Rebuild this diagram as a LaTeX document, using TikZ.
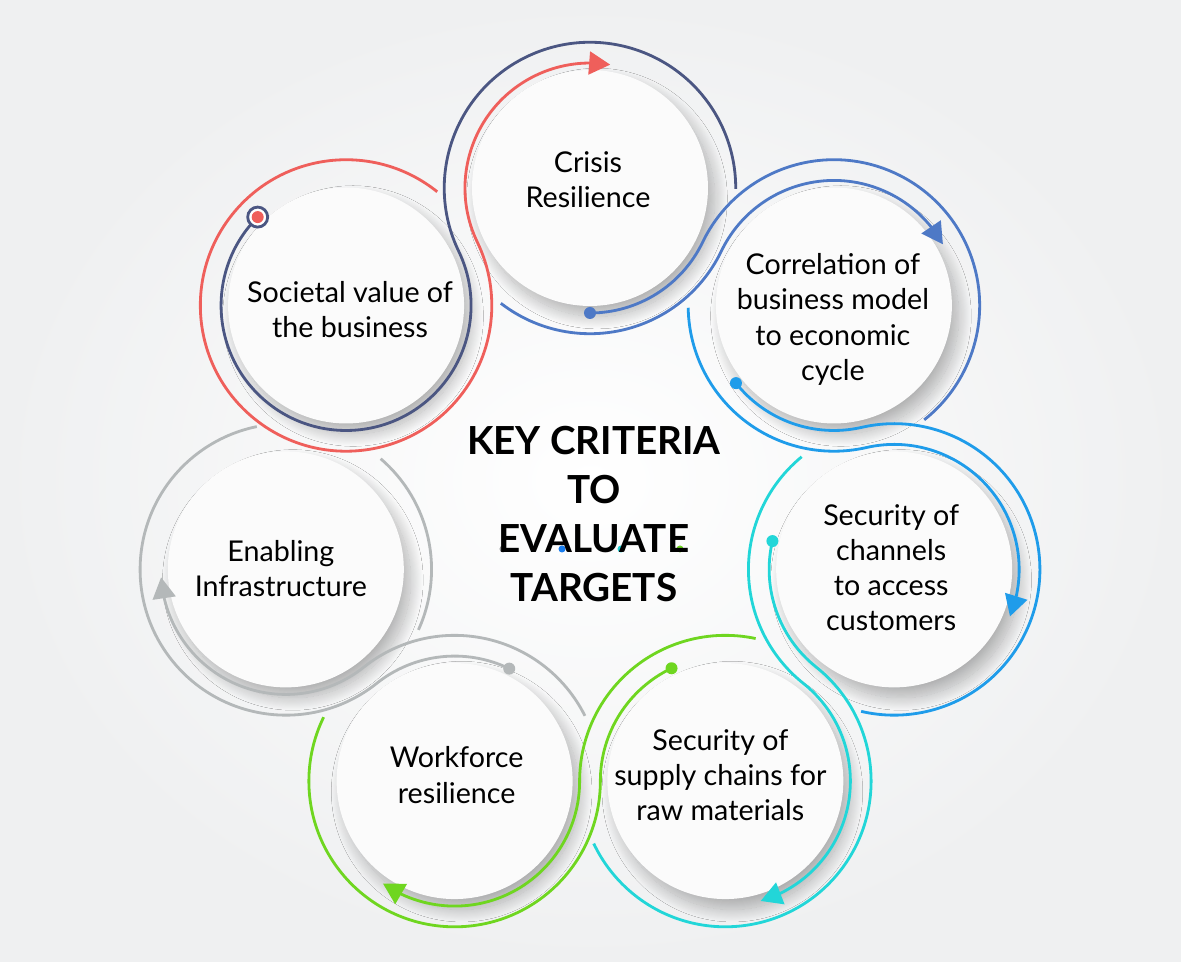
\documentclass[tikz,border=0pt]{standalone}
\usepackage{fontspec}
\setmainfont{Lato}
\usetikzlibrary{calc,arrows.meta,bending,shadows.blur}
\definecolor{bgray}{HTML}{EFF0F1}
\definecolor{discw}{HTML}{FBFBFB}
\definecolor{cred}{HTML}{EF5F5B}
\definecolor{cnavy}{HTML}{4B5682}
\definecolor{cblue}{HTML}{4E79C6}
\definecolor{clight}{HTML}{1F9CEA}
\definecolor{ccyan}{HTML}{22D6D8}
\definecolor{cgreen}{HTML}{6FD620}
\definecolor{cgray}{HTML}{B4B8B9}
\tikzset{
  disc/.style={circle,fill=discw,minimum size=4.72cm,inner sep=0pt,
    blur shadow={shadow xshift=4pt,shadow yshift=-6pt,shadow blur radius=7pt,
      shadow blur steps=24,shadow opacity=28}},
  strand/.style={line width=1.6pt},
  tip/.style={-{Triangle[length=12pt,width=13pt]}},
  lbl/.style={align=center,font=\fontsize{16.3}{20}\selectfont},
  title/.style={align=center,font=\bfseries\fontsize{22}{27.8}\selectfont}
}
\def\ri{125}
\def\ro{145.74}
\begin{document}
\begin{tikzpicture}[x=0.02cm,y=0.02cm]
    \useasboundingbox (-590,-462) rectangle (591,500);
    \shade[inner color=white,outer color=bgray] (-590,-462) rectangle (591,500);
    \node[disc] (crisis) at (90:312) {};
    \node[disc] (corr)   at (38.571:312) {};
    \node[disc] (chan)   at (-12.857:312) {};
    \node[disc] (supply) at (-64.286:312) {};
    \node[disc] (work)   at (-115.714:312) {};
    \node[disc] (enab)   at (-167.143:312) {};
    \node[disc] (soc)    at (141.429:312) {};
    \node[lbl] (lcrisis) at ($(crisis)+(-2,8)$) {Crisis\\Resilience};
    \node[lbl] (lcorr)   at ($(corr)+(-1,-14)$) {Correlation of\\business model\\to economic\\cycle};
    \node[lbl] (lchan)   at ($(chan)+(-3,2)$) {Security of\\channels\\to access\\customers};
    \node[lbl] (lsupply) at ($(supply)+(-5,6)$) {Security of\\supply chains for\\raw materials};
    \node[lbl] (lwork)   at ($(work)+(2,6)$) {Workforce\\resilience};
    \node[lbl] (lenab)   at ($(enab)+(-5,1)$) {Enabling\\Infrastructure};
    \node[lbl] (lsoc)    at ($(soc)+(4,-4)$) {Societal value of\\the business};
    \draw[strand,cnavy] ($(soc)+(135:\ri)$) arc[start angle=135,end angle=385.714,radius=\ri]
        arc[start angle=205.714,end angle=-0.3,radius=\ro];
    \draw[strand,cred,tip] ($(soc)+(51.3:\ro)$) arc[start angle=51.3,end angle=385.714,radius=\ro]
        arc[start angle=205.714,end angle=80.7,radius=\ri];
    \draw[strand,cblue] ($(crisis)+(-90:\ri)$) arc[start angle=-90,end angle=-25.714,radius=\ri]
        arc[start angle=154.286,end angle=-51.7,radius=\ro];
    \draw[strand,cblue,tip] ($(crisis)+(-127.7:\ro)$) arc[start angle=-127.7,end angle=-25.714,radius=\ro]
        arc[start angle=154.286,end angle=29.3,radius=\ri];
    \draw[strand,clight] ($(corr)+(-141.6:\ri)$) arc[start angle=-141.6,end angle=-77.143,radius=\ri]
        arc[start angle=102.857,end angle=-103.1,radius=\ro];
    \draw[strand,clight,tip] ($(corr)+(-179.1:\ro)$) arc[start angle=-179.1,end angle=-77.143,radius=\ro]
        arc[start angle=102.857,end angle=-22.1,radius=\ri];
    \draw[strand,ccyan] ($(chan)+(166.9:\ri)$) arc[start angle=166.9,end angle=231.429,radius=\ri]
        arc[start angle=51.429,end angle=-154.6,radius=\ro];
    \draw[strand,ccyan,tip] ($(chan)+(129.4:\ro)$) arc[start angle=129.4,end angle=231.429,radius=\ro]
        arc[start angle=51.429,end angle=-73.6,radius=\ri];
    \draw[strand,cgreen] ($(supply)+(115.5:\ri)$) arc[start angle=115.5,end angle=180,radius=\ri]
        arc[start angle=0,end angle=-206,radius=\ro];
    \draw[strand,cgreen,tip] ($(supply)+(78:\ro)$) arc[start angle=78,end angle=180,radius=\ro]
        arc[start angle=0,end angle=-125,radius=\ri];
    \draw[strand,cgray] ($(work)+(64.1:\ri)$) arc[start angle=64.1,end angle=128.571,radius=\ri]
        arc[start angle=-51.429,end angle=-258.5,radius=\ro];
    \draw[strand,cgray] ($(enab)+(49.4:\ro)$) arc[start angle=49.4,end angle=-24.5,radius=\ro];
    \draw[strand,cgray,tip] ($(work)+(26.6:\ro)$) arc[start angle=26.6,end angle=128.571,radius=\ro]
        arc[start angle=-51.429,end angle=-176.4,radius=\ri];
    \filldraw[cnavy,fill=white,line width=1.6pt] ($(soc)+(135:\ri)$) circle (10);
    \fill[cred] ($(soc)+(135:\ri)$) circle (6);
    \fill[cblue] ($(crisis)+(-90:\ri)$) circle (6);
    \fill[clight] ($(corr)+(-141.6:\ri)$) circle (6);
    \fill[ccyan] ($(chan)+(166.9:\ri)$) circle (6);
    \fill[cgreen] ($(supply)+(115.5:\ri)$) circle (6);
    \fill[cgray] ($(work)+(64.1:\ri)$) circle (6);
    \fill[cgray!80!black] (-87,-49) circle (3.5);
    \fill[clight!80!blue] (-28,-49) circle (3.5);
    \fill[ccyan] (31,-49) circle (3.5);
    \fill[cgreen] (90,-49) circle (3.5);
    \node[title] (key) at (4,-14) {KEY CRITERIA\\TO\\EVALUATE\\TARGETS};
\end{tikzpicture}
\end{document}
